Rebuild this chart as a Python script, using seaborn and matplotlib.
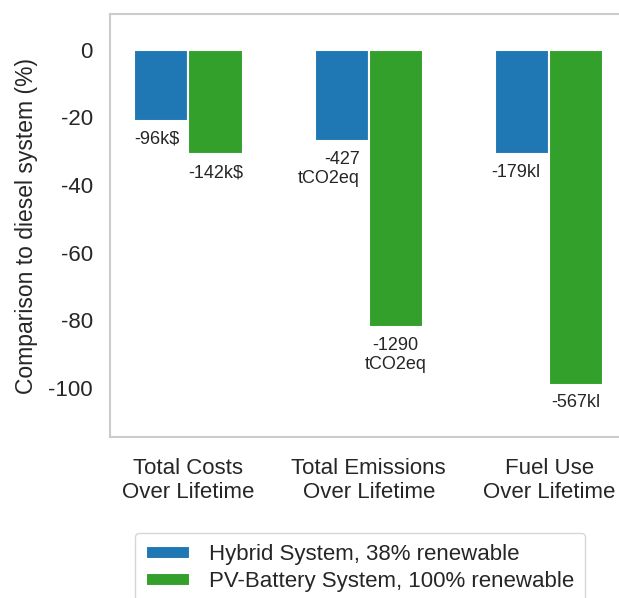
import matplotlib
matplotlib.use("Agg")

import matplotlib.pyplot as plt
import seaborn as sns
import pandas as pd

# data
categories = ["Total Costs\nOver Lifetime", "Total Emissions\nOver Lifetime", "Fuel Use\nOver Lifetime"]
systems = ["Hybrid System, 38% renewable", "PV-Battery System, 100% renewable"]
hybrid_pct = [-21, -27, -31]
pv_pct = [-31, -82, -99]
hybrid_labels = ["-96k$", "-427\ntCO2eq", "-179kl"]
pv_labels = ["-142k$", "-1290\ntCO2eq", "-567kl"]
colors = ["#1f78b4", "#33a02c"]

df = pd.DataFrame({
    "category": categories * 2,
    "system": [systems[0]] * 3 + [systems[1]] * 3,
    "value": hybrid_pct + pv_pct,
})

sns.set_theme(style="whitegrid")
plt.rcParams["font.family"] = ["Liberation Sans", "DejaVu Sans"]
plt.rcParams["axes.unicode_minus"] = False

W, H = 619, 598
fig = plt.figure(figsize=(W / 100, H / 100), dpi=100)
ax = fig.add_axes([110 / W, 1 - 437 / H, (627.5 - 110) / W, (437 - 14) / H])

sns.barplot(data=df, x="category", y="value", hue="system", palette=colors,
            width=0.6, saturation=1, edgecolor="white", linewidth=1.5, ax=ax)

ax.grid(False)
ax.set_xlim(-0.435, 2.435)
ax.set_ylim(-114.5, 10.5)
ax.set_yticks([0, -20, -40, -60, -80, -100])
ax.set_xlabel("")
ax.set_ylabel("Comparison to diesel system (%)", fontsize=16.5, color=".15", labelpad=7)
ax.tick_params(axis="y", labelsize=16, pad=6.5, colors=".15")
ax.tick_params(axis="x", labelsize=16, pad=9, colors=".15")
for s in ax.spines.values():
    s.set_color(".8")
    s.set_linewidth(1.5)

# value labels under bars
for cont, labels, side in zip(ax.containers, [hybrid_labels, pv_labels], ["right", "center"]):
    for bar, lab in zip(cont.patches, labels):
        if side == "right":
            x = bar.get_x() + bar.get_width() - 0.05
        else:
            x = bar.get_x() + bar.get_width() / 2
        ax.annotate(lab, (x, bar.get_y() + bar.get_height()), xytext=(0, -7),
                    textcoords="offset points", ha=side, va="top", fontsize=13, color=".15")

handles, labels = ax.get_legend_handles_labels()
ax.legend_.remove()
fig.legend(handles, labels, loc="upper center", bbox_to_anchor=(360 / W, 1 - 533 / H),
           fontsize=16, frameon=True, edgecolor=".8", handlelength=2.0, handleheight=0.55,
           labelspacing=0.27, handletextpad=0.85, borderpad=0.5, borderaxespad=0,
           labelcolor=".15")

fig.savefig("out.png", dpi=100)
